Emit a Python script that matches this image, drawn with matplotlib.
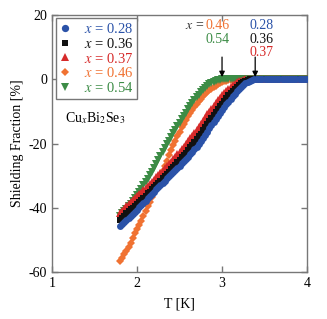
import matplotlib
matplotlib.use("Agg")
import matplotlib.pyplot as plt

plt.rc('font', family='Liberation Serif', size=10)
plt.rc('mathtext', fontset='stix')
plt.rc('axes', unicode_minus=False)

# temperature grid (K)
T = [1.800, 1.825, 1.850, 1.875, 1.900, 1.925, 1.950, 1.975, 2.000, 2.025,
     2.050, 2.075, 2.100, 2.125, 2.150, 2.175, 2.200, 2.225, 2.250, 2.275,
     2.300, 2.325, 2.350, 2.375, 2.400, 2.425, 2.450, 2.475, 2.500, 2.525,
     2.550, 2.575, 2.600, 2.625, 2.650, 2.675, 2.700, 2.725, 2.750, 2.775,
     2.800, 2.825, 2.850, 2.875, 2.900, 2.925, 2.950, 2.975, 3.000, 3.025,
     3.050, 3.075, 3.100, 3.125, 3.150, 3.175, 3.200, 3.225, 3.250, 3.275,
     3.300, 3.325, 3.350, 3.375, 3.400, 3.425, 3.450, 3.475, 3.500, 3.525,
     3.550, 3.575, 3.600, 3.625, 3.650, 3.675, 3.700, 3.725, 3.750, 3.775,
     3.800, 3.825, 3.850, 3.875, 3.900, 3.925, 3.950, 3.975, 4.000]

# shielding fraction (%) per composition x
sf_028 = [-45.5, -45.0, -44.4, -43.8, -43.2, -42.6, -41.9, -41.2, -40.5, -39.8,
          -39.1, -38.4, -37.7, -37.0, -36.3, -35.6, -34.9, -34.2, -33.5, -32.9,
          -32.2, -31.5, -30.8, -30.2, -29.5, -28.9, -28.2, -27.6, -26.9, -26.2,
          -25.5, -24.8, -24.1, -23.4, -22.6, -21.8, -21.0, -20.1, -19.2, -18.3,
          -17.3, -16.3, -15.3, -14.4, -13.4, -12.5, -11.5, -10.6, -9.7, -8.8,
          -7.9, -7.0, -6.2, -5.4, -4.6, -3.8, -3.1, -2.4, -1.8, -1.3,
          -0.8, -0.5, -0.3, -0.15, -0.05, 0, 0, 0, 0, 0,
          0, 0, 0, 0, 0, 0, 0, 0, 0, 0,
          0, 0, 0, 0, 0, 0, 0, 0, 0]
sf_036 = [-43.7, -43.0, -42.4, -41.7, -41.0, -40.4, -39.9, -39.3, -38.7, -38.1,
          -37.5, -36.8, -36.2, -35.5, -34.9, -34.2, -33.6, -32.9, -32.2, -31.5,
          -30.8, -30.1, -29.4, -28.7, -28.0, -27.3, -26.6, -25.8, -25.1, -24.3,
          -23.6, -22.8, -22.0, -21.2, -20.4, -19.5, -18.7, -17.8, -16.9, -15.9,
          -15.0, -14.0, -13.1, -12.1, -11.2, -10.2, -9.3, -8.4, -7.6, -6.7,
          -5.9, -5.1, -4.4, -3.7, -3.0, -2.4, -1.8, -1.3, -0.9, -0.6,
          -0.3, -0.15, -0.05, 0, 0, 0, 0, 0, 0, 0,
          0, 0, 0, 0, 0, 0, 0, 0, 0, 0,
          0, 0, 0, 0, 0, 0, 0, 0, 0]
sf_037 = [-41.5, -40.8, -40.2, -39.5, -38.8, -38.2, -37.6, -37.0, -36.4, -35.8,
          -35.2, -34.5, -33.9, -33.2, -32.6, -31.9, -31.2, -30.5, -29.8, -29.1,
          -28.4, -27.7, -27.0, -26.3, -25.6, -24.8, -24.1, -23.3, -22.6, -21.8,
          -21.0, -20.1, -19.3, -18.4, -17.6, -16.7, -15.8, -14.8, -13.9, -12.9,
          -12.0, -11.0, -10.1, -9.2, -8.3, -7.4, -6.6, -5.8, -5.0, -4.3,
          -3.6, -3.0, -2.4, -1.9, -1.4, -1.0, -0.7, -0.5, -0.3, -0.15,
          -0.05, 0, 0, 0, 0, 0, 0, 0, 0, 0,
          0, 0, 0, 0, 0, 0, 0, 0, 0, 0,
          0, 0, 0, 0, 0, 0, 0, 0, 0]
sf_046 = [-56.3, -55.4, -54.4, -53.2, -52.0, -50.7, -49.3, -47.9, -46.4, -45.2,
          -43.9, -42.5, -41.0, -39.5, -38.0, -36.5, -35.0, -33.5, -31.9, -30.3,
          -28.6, -27.0, -25.3, -23.7, -22.1, -20.6, -19.1, -17.7, -16.3, -15.0,
          -13.8, -12.6, -11.5, -10.5, -9.5, -8.6, -7.7, -6.9, -6.1, -5.4,
          -4.7, -4.1, -3.5, -3.0, -2.5, -2.1, -1.7, -1.3, -1.0, -0.7,
          -0.5, -0.3, -0.2, -0.1, 0, 0, 0, 0, 0, 0,
          0, 0, 0, 0, 0, 0, 0, 0, 0, 0,
          0, 0, 0, 0, 0, 0, 0, 0, 0, 0,
          0, 0, 0, 0, 0, 0, 0, 0, 0]
sf_054 = [-42.5, -41.7, -41.0, -40.2, -39.5, -38.7, -37.8, -36.9, -36.0, -35.0,
          -34.0, -33.0, -31.9, -30.9, -29.8, -28.7, -27.5, -26.3, -25.1, -23.9,
          -22.7, -21.5, -20.3, -19.1, -18.0, -16.8, -15.7, -14.6, -13.5, -12.4,
          -11.4, -10.4, -9.4, -8.4, -7.5, -6.6, -5.7, -4.9, -4.1, -3.4,
          -2.8, -2.2, -1.7, -1.3, -0.9, -0.6, -0.4, -0.2, -0.1, 0,
          0, 0, 0, 0, 0, 0, 0, 0, 0, 0,
          0, 0, 0, 0, 0, 0, 0, 0, 0, 0,
          0, 0, 0, 0, 0, 0, 0, 0, 0, 0,
          0, 0, 0, 0, 0, 0, 0, 0, 0]

C_BLUE = '#2a52a8'
C_BLACK = '#111111'
C_RED = '#d62a2a'
C_ORANGE = '#f07232'
C_GREEN = '#3c8c46'

fig = plt.figure(figsize=(3.27, 3.19), dpi=100)
ax = fig.add_axes([0.159, 0.1458, 0.78, 0.8087])

h28, = ax.plot(T, sf_028, 'o', color=C_BLUE, ms=5, mew=0, zorder=6, label='$x$ = 0.28')
h36, = ax.plot(T, sf_036, 's', color=C_BLACK, ms=4.5, mew=0, zorder=5, label='$x$ = 0.36')
h37, = ax.plot(T, sf_037, '^', color=C_RED, ms=5.5, mew=0, zorder=4, label='$x$ = 0.37')
h46, = ax.plot(T, sf_046, 'D', color=C_ORANGE, ms=4, mew=0, zorder=2, label='$x$ = 0.46')
h54, = ax.plot(T, sf_054, 'v', color=C_GREEN, ms=5.5, mew=0, zorder=3, label='$x$ = 0.54')

ax.set_xlim(1, 4)
ax.set_ylim(-60, 20)
ax.set_xticks([1, 2, 3, 4])
ax.set_yticks([-60, -40, -20, 0, 20])
ax.tick_params(direction='in', top=True, right=True, length=4, width=1, color='#777777', labelsize=10)
for s in ax.spines.values():
    s.set_color('#777777')
    s.set_linewidth(1)

ax.set_xlabel('T [K]', fontsize=10, labelpad=5)
ax.set_ylabel('Shielding Fraction [%]', fontsize=10, labelpad=3)

leg = ax.legend(handles=[h28, h36, h37, h46, h54], loc='upper left', bbox_to_anchor=(0.0, 1.0),
                fancybox=False, framealpha=1, edgecolor='#777777', fontsize=10.5,
                handlelength=0.8, handletextpad=0.9, labelspacing=0.06, borderpad=0.25,
                borderaxespad=0.25, markerscale=1.05)
leg.get_frame().set_linewidth(1)
for txt, c in zip(leg.get_texts(), [C_BLUE, C_BLACK, C_RED, C_ORANGE, C_GREEN]):
    txt.set_color(c)

ax.text(1.15, -12, 'Cu$_x$Bi$_2$Se$_3$', fontsize=10, ha='left', va='center')

# onset labels and arrows
ax.text(2.795, 16.7, '$x$ =', ha='right', va='center', color='#333333')
ax.text(2.81, 16.7, '0.46', ha='left', va='center', color=C_ORANGE)
ax.text(2.81, 12.3, '0.54', ha='left', va='center', color=C_GREEN)
ax.text(3.32, 16.7, '0.28', ha='left', va='center', color=C_BLUE)
ax.text(3.32, 12.3, '0.36', ha='left', va='center', color=C_BLACK)
ax.text(3.32, 8.2, '0.37', ha='left', va='center', color=C_RED)
for xa in [3.0, 3.39]:
    ax.annotate('', xy=(xa, 0.6), xytext=(xa, 6.8),
                arrowprops=dict(arrowstyle='-|>', color='black', lw=0.9,
                                mutation_scale=8, shrinkA=0, shrinkB=0), zorder=8)

fig.savefig('out.png', dpi=100)
